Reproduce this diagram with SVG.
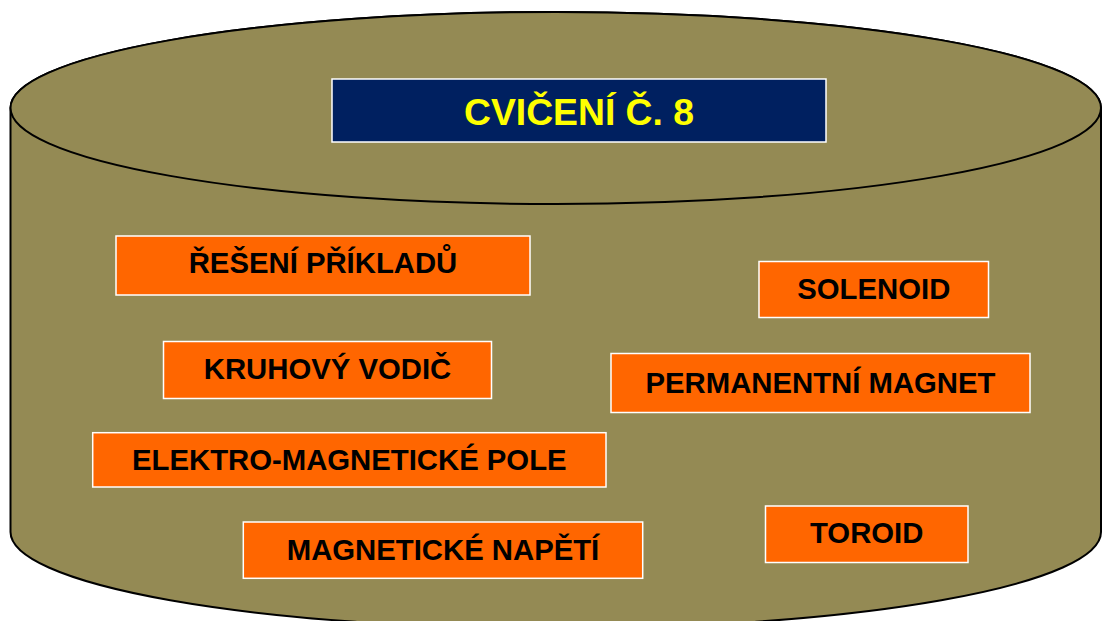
<svg xmlns="http://www.w3.org/2000/svg" width="1102" height="621" viewBox="0 0 1102 621">
<style>
.box{fill:#FF6600;stroke:#FFFFFF;stroke-width:1.5}
.lbl{font-family:"Liberation Sans",Arial,sans-serif;font-weight:bold;font-size:29.3px;fill:#000000;text-anchor:middle}
.ttl{font-family:"Liberation Sans",Arial,sans-serif;font-weight:bold;font-size:37.3px;fill:#FFFF00;text-anchor:middle}
.cyl{fill:#948A54;stroke:#000000;stroke-width:2}
</style>
<rect width="1102" height="621" fill="#FFFFFF"/>
<g id="cylinder">
<path class="cyl" d="M10.5,108 L10.5,532 A545.25,96.5 0 0 0 1101,532 L1101,108 A545.25,96 0 0 0 10.5,108 Z"/>
<ellipse class="cyl" cx="555.75" cy="108" rx="545.25" ry="96"/>
</g>
<g id="title">
<rect x="332" y="79" width="494" height="63" fill="#002060" stroke="#FFFFFF" stroke-width="1.5"/>
<text class="ttl" x="579" y="125">CVIČENÍ Č. 8</text>
</g>
<g id="connectors"></g>
<g id="n-reseni">
<rect class="box" x="116" y="236" width="414" height="59"/>
<text class="lbl" x="323" y="273">ŘEŠENÍ PŘÍKLADŮ</text>
</g>
<g id="n-kruhovy">
<rect class="box" x="163.5" y="341.5" width="328" height="57"/>
<text class="lbl" x="327.5" y="379">KRUHOVÝ VODIČ</text>
</g>
<g id="n-elektro">
<rect class="box" x="92.7" y="432.7" width="513.3" height="54.3"/>
<text class="lbl" x="349.3" y="470">ELEKTRO-MAGNETICKÉ POLE</text>
</g>
<g id="n-napeti">
<rect class="box" x="243.3" y="522" width="399.4" height="56.3"/>
<text class="lbl" x="443" y="560">MAGNETICKÉ NAPĚTÍ</text>
</g>
<g id="n-solenoid">
<rect class="box" x="759" y="261.5" width="229.5" height="56"/>
<text class="lbl" x="873.8" y="298.5">SOLENOID</text>
</g>
<g id="n-permanent">
<rect class="box" x="611" y="353.5" width="419" height="59"/>
<text class="lbl" x="820.5" y="393">PERMANENTNÍ MAGNET</text>
</g>
<g id="n-toroid">
<rect class="box" x="765.5" y="506" width="202.5" height="56.5"/>
<text class="lbl" x="866.7" y="543">TOROID</text>
</g>
</svg>
